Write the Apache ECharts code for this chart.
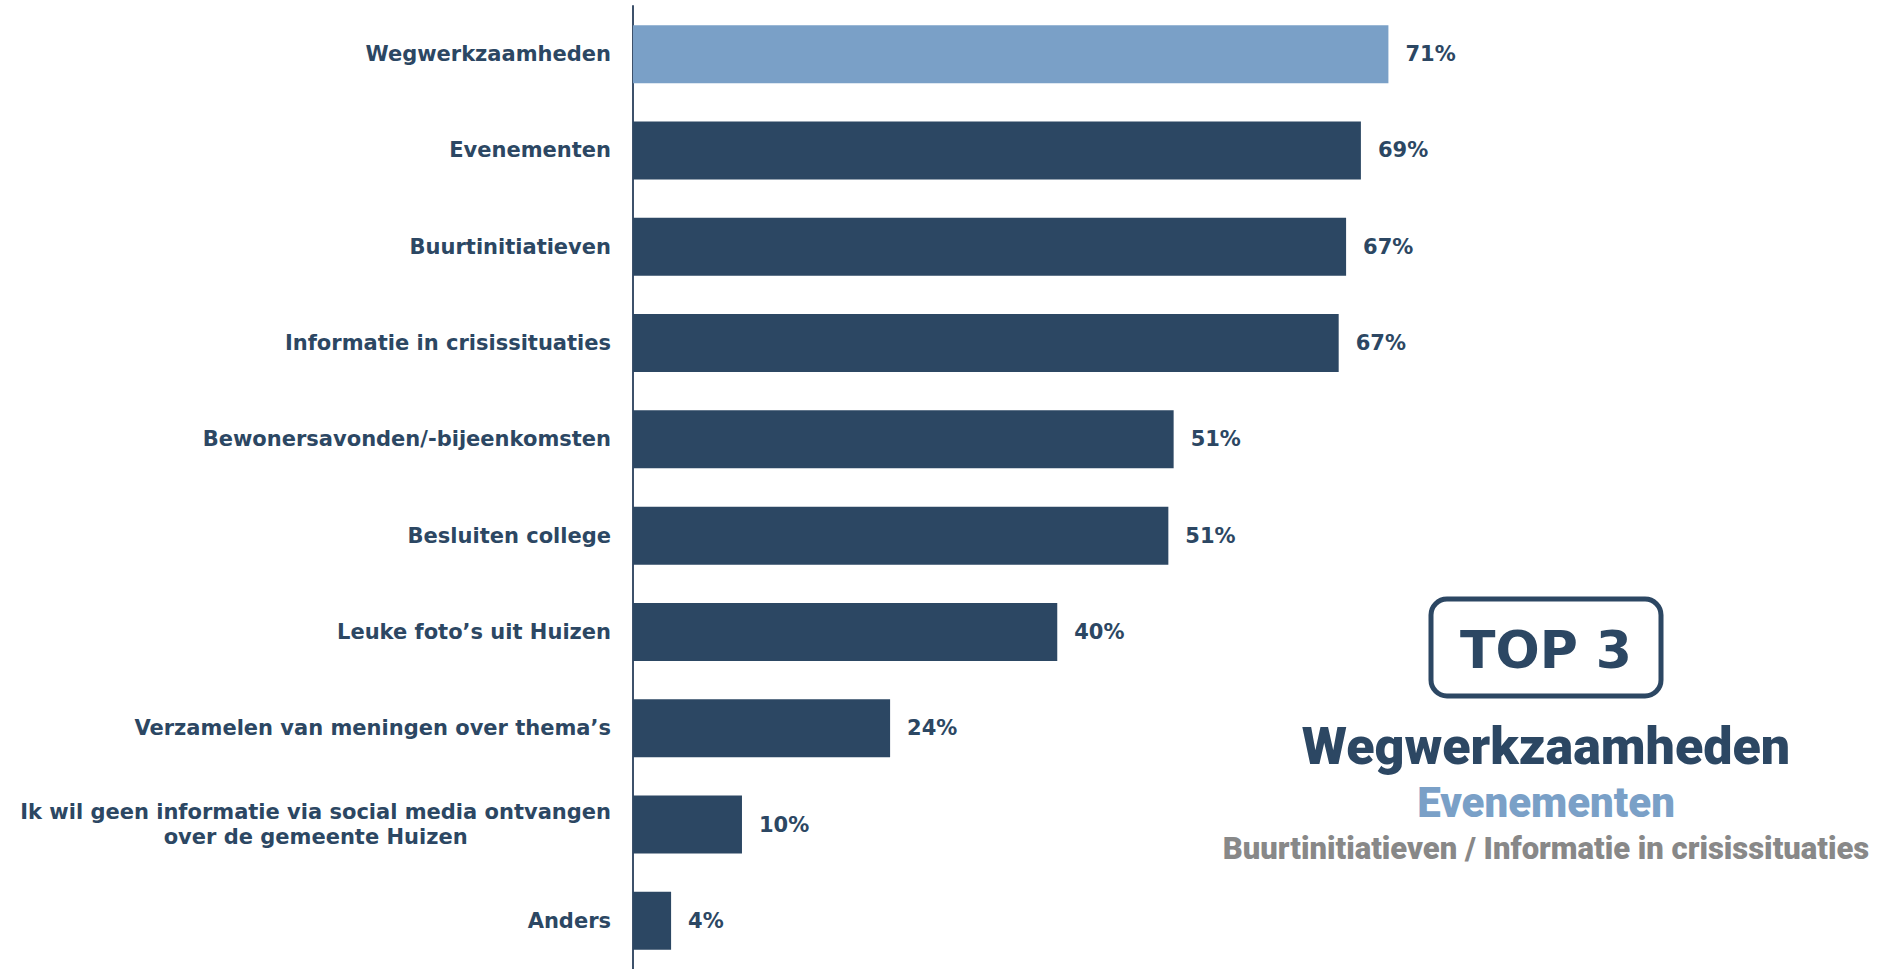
<!DOCTYPE html>
<html>
<head>
<meta charset="utf-8">
<script src="https://cdn.jsdelivr.net/npm/echarts@6/dist/echarts.min.js"></script>
<style>
  html, body { margin: 0; padding: 0; background: #fff; }
  #chart { width: 1887px; height: 969px; }
</style>
</head>
<body>
<div id="chart"></div>
<script>
// data (percent)
const categories = [
  "Wegwerkzaamheden",
  "Evenementen",
  "Buurtinitiatieven",
  "Informatie in crisissituaties",
  "Bewonersavonden/-bijeenkomsten",
  "Besluiten college",
  "Leuke foto\u2019s uit Huizen",
  "Verzamelen van meningen over thema\u2019s",
  "Ik wil geen informatie via social media ontvangen\nover de gemeente Huizen",
  "Anders"
];
const values = [71.4, 68.8, 67.4, 66.7, 51.1, 50.6, 40.1, 24.3, 10.3, 3.6];
const highlightIndex = 0;

const top3Title = "TOP 3";
const top3 = ["Wegwerkzaamheden", "Evenementen", "Buurtinitiatieven / Informatie in crisissituaties"];

const darkBlue = "#2c4763";
const lightBlue = "#7aa0c7";
const grey = "#888888";
const labelFont = "'DejaVu Sans', Verdana, sans-serif";
const headFont = "Roboto, 'Liberation Sans', sans-serif";

const chart = echarts.init(document.getElementById("chart"), null, { renderer: "svg" });

const option = {
  backgroundColor: "#fff",
  animation: false,
  grid: { left: 633, right: 196, top: 6, height: 976, containLabel: false },
  xAxis: {
    type: "value",
    min: 0,
    max: 100,
    show: false
  },
  yAxis: {
    type: "category",
    inverse: true,
    data: categories,
    axisLine: { show: true, lineStyle: { color: "#3d516b", width: 2 } },
    axisTick: { show: false },
    splitLine: { show: false },
    axisLabel: {
      margin: 22,
      fontFamily: labelFont,
      fontWeight: "bold",
      fontSize: 21,
      color: darkBlue,
      lineHeight: 25,
      formatter: function (v) {
        if (v.indexOf("\n") < 0) return v;
        return v.split("\n").map(function (s) { return "{c|" + s + "}"; }).join("\n");
      },
      rich: {
        c: {
          align: "center",
          fontFamily: labelFont,
          fontWeight: "bold",
          fontSize: 21,
          color: darkBlue,
          lineHeight: 25
        }
      }
    }
  },
  series: [{
    type: "bar",
    barWidth: 58,
    data: values.map(function (v, i) {
      return { value: v, itemStyle: { color: i === highlightIndex ? lightBlue : darkBlue } };
    }),
    label: {
      show: true,
      position: "right",
      distance: 17,
      fontFamily: labelFont,
      fontWeight: "bold",
      fontSize: 21,
      color: darkBlue,
      formatter: function (p) { return Math.round(p.value) + "%"; }
    }
  }],
  graphic: [
    {
      type: "rect",
      shape: { x: 1431, y: 599, width: 230, height: 97, r: 16 },
      style: { fill: "#fff", stroke: darkBlue, lineWidth: 5 }
    },
    {
      type: "text",
      x: 1546, y: 650,
      style: {
        text: top3Title, fill: darkBlue,
        font: "bold 52px " + labelFont,
        align: "center", verticalAlign: "middle"
      }
    },
    {
      type: "text",
      x: 1546, y: 746,
      style: {
        text: top3[0], fill: darkBlue,
        font: "900 52px " + headFont,
        align: "center", verticalAlign: "middle"
      }
    },
    {
      type: "text",
      x: 1546, y: 802,
      style: {
        text: top3[1], fill: lightBlue,
        font: "900 42px " + headFont,
        align: "center", verticalAlign: "middle"
      }
    },
    {
      type: "text",
      x: 1546, y: 848,
      style: {
        text: top3[2], fill: grey,
        font: "900 31px " + headFont,
        align: "center", verticalAlign: "middle"
      }
    }
  ]
};

chart.setOption(option);
</script>
</body>
</html>
